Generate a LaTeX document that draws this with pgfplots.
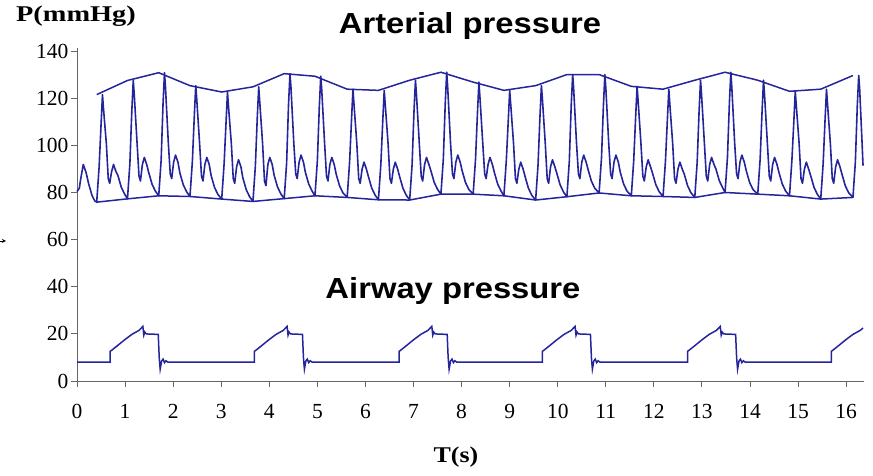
\documentclass[border=0pt]{standalone}
\usepackage{fontspec}
\setmainfont{Liberation Serif}
\newfontfamily\arialfont{Liberation Sans}
\usepackage{pgfplots}
\pgfplotsset{compat=1.18}
\definecolor{trace}{RGB}{36,36,155}
\begin{document}
\begin{tikzpicture}
\useasboundingbox (-77bp,-95bp) rectangle (796bp,381bp);
\begin{axis}[
  at={(0,0)}, anchor=south west,
  scale only axis, width=787bp, height=333bp,
  xmin=0, xmax=16.37, ymin=0, ymax=141.5,
  axis lines=left,
  axis line style={draw=gray!80!black, line width=1bp, -},
  xtick={0,1,...,16}, ytick={0,20,...,140},
  tick align=outside, major tick length=6bp,
  tick style={draw=gray!80!black, line width=1bp},
  xticklabel={\pgfmathparse{int(round(\tick))}\rmfamily\pgfmathresult},
  yticklabel={\pgfmathparse{int(round(\tick))}\rmfamily\pgfmathresult},
  ticklabel style={font=\rmfamily\fontsize{21.5bp}{25bp}\selectfont, text=black},
  xticklabel style={yshift=-14bp},
  yticklabel style={xshift=1bp},
  clip=false,
]
\addplot[trace, line width=1.6bp, no marks, line join=round] table {
0 80.5
0.05 82
0.07 85
0.13 92
0.19 88.5
0.24 84
0.31 79
0.37 76.5
0.41 76
0.46 91
0.50 108.7
0.53 121.7
0.55 116
0.61 101
0.65 86
0.68 84
0.72 89
0.76 92
0.81 89
0.85 87.4
0.92 82.4
0.99 79.4
1.05 77.4
1.10 92.4
1.14 114.7
1.17 127.7
1.19 122
1.25 101
1.29 87
1.32 85
1.36 92
1.40 95
1.45 92
1.49 88.7
1.56 83.7
1.63 80.7
1.70 78.7
1.75 93.7
1.79 118
1.82 131
1.84 125
1.90 101
1.94 88
1.97 86
2.01 93
2.05 96
2.10 93
2.14 88.4
2.21 83.4
2.28 80.4
2.35 78.4
2.40 93.4
2.44 112.5
2.47 125.5
2.49 120
2.55 101
2.59 87
2.62 85
2.66 92
2.70 95
2.75 92
2.79 87.3
2.86 82.3
2.93 79.3
3.01 77.3
3.06 92.3
3.10 109.8
3.13 122.8
3.15 117
3.21 101
3.25 86
3.28 84
3.32 91
3.36 94
3.41 91
3.45 86.3
3.52 81.3
3.59 78.3
3.66 76.3
3.71 91.3
3.75 112
3.78 125
3.80 119
3.86 101
3.90 85
3.93 83
3.97 92
4.01 95
4.06 92
4.10 87.5
4.17 82.5
4.24 79.5
4.31 77.5
4.36 92.5
4.40 117.6
4.43 130.6
4.45 125
4.51 101
4.55 88
4.58 86
4.62 93
4.66 96
4.71 93
4.75 88.7
4.82 83.7
4.89 80.7
4.95 78.7
5.00 93.7
5.04 116.5
5.07 129.5
5.09 124
5.15 101
5.19 87
5.22 85
5.26 92
5.30 95
5.35 92
5.39 88
5.46 83
5.53 80
5.62 78
5.67 93
5.71 111
5.74 124
5.76 118
5.82 101
5.86 86
5.89 84
5.93 90
5.97 93
6.02 90
6.06 87
6.13 82
6.20 79
6.27 77
6.32 92
6.36 110.5
6.39 123.5
6.41 118
6.47 101
6.51 86
6.54 84
6.58 90
6.62 93
6.67 90
6.71 86.9
6.78 81.9
6.85 78.9
6.92 76.9
6.97 91.9
7.01 114.8
7.04 127.8
7.06 122
7.12 101
7.16 87
7.19 85
7.23 92
7.27 95
7.32 92
7.36 89.4
7.43 84.4
7.50 81.4
7.57 79.4
7.62 94.4
7.66 118.2
7.69 131.2
7.71 125
7.77 101
7.81 88
7.84 86
7.88 93
7.92 96
7.97 93
8.01 89.4
8.08 84.4
8.15 81.4
8.24 79.4
8.29 94.4
8.33 114
8.36 127
8.38 121
8.44 101
8.48 88
8.51 86
8.55 92
8.59 95
8.64 92
8.68 88.7
8.75 83.7
8.82 80.7
8.88 78.7
8.93 93.7
8.97 110.5
9.00 123.5
9.02 118
9.08 101
9.12 86
9.15 84
9.19 90
9.23 93
9.28 90
9.32 86.9
9.39 81.9
9.46 78.9
9.54 76.9
9.59 91.9
9.63 112.5
9.66 125.5
9.68 120
9.74 101
9.78 86
9.81 84
9.85 91
9.89 94
9.94 91
9.98 88.3
10.05 83.3
10.12 80.3
10.19 78.3
10.24 93.3
10.28 117.2
10.31 130.2
10.33 124.5
10.39 101
10.43 88
10.46 86
10.50 93
10.54 96
10.59 93
10.63 89.9
10.70 84.9
10.77 81.9
10.86 79.9
10.91 94.9
10.95 117.2
10.98 130.2
11.00 124.5
11.06 101
11.10 88
11.13 86
11.17 93
11.21 96
11.26 93
11.30 88.7
11.37 83.7
11.44 80.7
11.53 78.7
11.58 93.7
11.62 112.2
11.65 125.2
11.67 119.5
11.73 101
11.77 87
11.80 85
11.84 91
11.88 94
11.93 91
11.97 88.4
12.04 83.4
12.11 80.4
12.19 78.4
12.24 93.4
12.28 111
12.31 124
12.33 118
12.39 101
12.43 86
12.46 84
12.50 90
12.54 93
12.59 90
12.63 88
12.70 83
12.77 80
12.85 78
12.90 93
12.94 114.8
12.97 127.8
12.99 122
13.05 101
13.09 87
13.12 85
13.16 92
13.20 95
13.25 92
13.29 90.1
13.36 85.1
13.43 82.1
13.48 80.1
13.53 95.1
13.57 118.2
13.60 131.2
13.62 125
13.68 101
13.72 88
13.75 86
13.79 93
13.83 96
13.88 93
13.92 89.4
13.99 84.4
14.06 81.4
14.16 79.4
14.21 94.4
14.25 114.8
14.28 127.8
14.30 122
14.36 101
14.40 87
14.43 85
14.47 92
14.51 95
14.56 92
14.60 88.7
14.67 83.7
14.74 80.7
14.82 78.7
14.87 93.7
14.91 110.1
14.94 123.1
14.96 117.5
15.02 101
15.06 86
15.09 84
15.13 90
15.17 93
15.22 90
15.26 87.3
15.33 82.3
15.40 79.3
15.47 77.3
15.52 92.3
15.56 111
15.59 124
15.61 118
15.67 101
15.71 86
15.74 84
15.78 91
15.82 94
15.87 91
15.91 88
15.98 83
16.05 80
16.14 78
16.19 93
16.23 116.8
16.26 129.8
16.28 124
16.33 101
16.35 91.5
};
% upper envelope
\addplot[trace, line width=1.5bp, no marks] table {
0.41 121.7
1.05 127.7
1.70 131
2.35 125.5
3.01 122.8
3.66 125
4.31 130.6
4.95 129.5
5.62 124
6.27 123.5
6.92 127.8
7.57 131.2
8.24 127
8.88 123.5
9.54 125.5
10.19 130.2
10.86 130.2
11.53 125.2
12.19 124
12.85 127.8
13.48 131.2
14.16 127.8
14.82 123.1
15.47 124
16.14 129.8
};
% lower envelope
\addplot[trace, line width=1.5bp, no marks] table {
0.41 76
1.05 77.4
1.70 78.7
2.35 78.4
3.01 77.3
3.66 76.3
4.31 77.5
4.95 78.7
5.62 78
6.27 77
6.92 76.9
7.57 79.4
8.24 79.4
8.88 78.7
9.54 76.9
10.19 78.3
10.86 79.9
11.53 78.7
12.19 78.4
12.85 78
13.48 80.1
14.16 79.4
14.82 78.7
15.47 77.3
16.14 78
};
% airway pressure
\addplot[trace, line width=1.5bp, no marks] table {
0 8
0.69 8
0.69 12.6
0.73 13.2
0.84 15
0.99 17.5
1.14 19.8
1.29 21.5
1.37 23.2
1.39 19.5
1.41 20.8
1.44 20
1.69 19.8
1.71 10
1.73 5
1.76 8.5
1.79 9.3
1.82 7.8
1.85 8.6
1.89 8
3.69 8
3.69 12.6
3.73 13.2
3.84 15
3.99 17.5
4.14 19.8
4.29 21.5
4.37 23.2
4.39 19.5
4.41 20.8
4.44 20
4.69 19.8
4.71 10
4.73 5
4.76 8.5
4.79 9.3
4.82 7.8
4.85 8.6
4.89 8
6.70 8
6.70 12.6
6.74 13.2
6.85 15
7.00 17.5
7.15 19.8
7.30 21.5
7.38 23.2
7.40 19.5
7.42 20.8
7.45 20
7.70 19.8
7.72 10
7.74 5
7.77 8.5
7.80 9.3
7.83 7.8
7.86 8.6
7.90 8
9.68 8
9.68 12.6
9.72 13.2
9.83 15
9.98 17.5
10.13 19.8
10.28 21.5
10.36 23.2
10.38 19.5
10.40 20.8
10.43 20
10.68 19.8
10.70 10
10.72 5
10.75 8.5
10.78 9.3
10.81 7.8
10.84 8.6
10.88 8
12.70 8
12.70 12.6
12.74 13.2
12.85 15
13.00 17.5
13.15 19.8
13.30 21.5
13.38 23.2
13.40 19.5
13.42 20.8
13.45 20
13.70 19.8
13.72 10
13.74 5
13.77 8.5
13.80 9.3
13.83 7.8
13.86 8.6
13.90 8
15.69 8
15.69 12.6
15.73 13.2
15.84 15
15.99 17.5
16.14 19.8
16.29 21.5
16.35 22.5
};
\end{axis}
\node[font=\fontsize{22.5bp}{26bp}\selectfont\bfseries] at (-1bp,365bp) {\scalebox{1.26}[1]{P(mmHg)}};
\node[font=\fontsize{22.5bp}{26bp}\selectfont\bfseries] at (379bp,-76bp) {\scalebox{1.15}[1]{T(s)}};
\node[font=\arialfont\fontsize{29bp}{34bp}\selectfont\bfseries] at (393bp,355bp) {\scalebox{1.13}[1]{Arterial pressure}};
\node[font=\arialfont\fontsize{29bp}{34bp}\selectfont\bfseries] at (376bp,90bp) {\scalebox{1.13}[1]{Airway pressure}};
\draw[-stealth, line width=0.8bp] (-85bp,140bp) -- (-71bp,140bp);
\end{tikzpicture}
\end{document}
